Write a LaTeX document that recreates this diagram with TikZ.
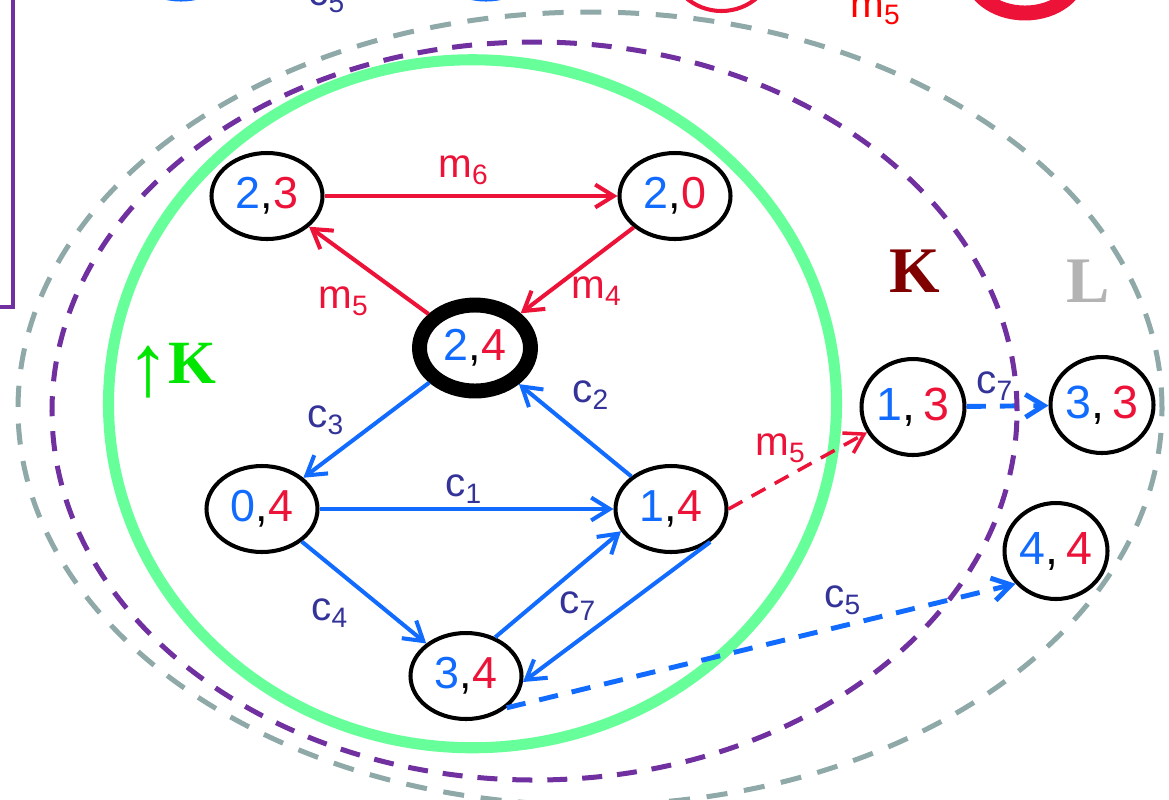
\documentclass[tikz,border=0pt]{standalone}
\usepackage{fontspec}
\setmainfont{Liberation Sans}
\newfontfamily\kfont{Liberation Serif}
\usetikzlibrary{arrows.meta,shapes.geometric}

\definecolor{cblue}{RGB}{17,107,255}
\definecolor{cred}{RGB}{236,18,56}
\definecolor{clab}{RGB}{51,51,153}
\definecolor{cgreen}{RGB}{102,255,153}
\definecolor{cpurple}{RGB}{112,48,160}
\definecolor{cgray}{RGB}{143,168,168}
\definecolor{kred}{RGB}{128,0,0}
\definecolor{lgray}{RGB}{179,179,179}
\definecolor{kgreen}{RGB}{0,230,0}

\newcommand{\pair}[2]{{\color{cblue}#1},{\color{cred}#2}}
\newcommand{\sublab}[2]{#1\raisebox{-4.5pt}{\fontsize{16}{16}\selectfont #2}}

\tikzset{
	state/.style={draw, fill=white, ellipse, line width=2.3pt, minimum width=2.22cm, minimum height=1.72cm, inner sep=0pt, font=\fontsize{25.5}{25.5}\selectfont},
	rstate/.style={state, minimum width=2.06cm, minimum height=1.92cm, font=\fontsize{26.5}{26.5}\selectfont},
	curstate/.style={state, line width=8.5pt},
	tip/.style={-{Straight Barb[length=10.5pt,width=13pt]}},
	mv/.style={tip, cred, line width=2.3pt},
	cv/.style={tip, cblue, line width=2.3pt},
	mvd/.style={mv, line width=2pt, dash pattern=on 9pt off 6pt},
	cvd/.style={cv, line width=2.8pt, dash pattern=on 11pt off 8pt},
	lab/.style={anchor=base west, inner sep=0pt, font=\fontsize{23}{23}\selectfont},
	big/.style={anchor=base west, inner sep=0pt, font=\kfont\bfseries\fontsize{37}{37}\selectfont}
}

\begin{document}
\begin{tikzpicture}[scale=2]
	
	\useasboundingbox (0,0) rectangle (11.69,-7.99);
	\clip (0,0) rectangle (11.69,-7.99);
	
	% Resto de la diapositiva (cortado)
	\draw[cpurple, line width=2.3pt] (-1,1) rectangle (0.13,-3.07);
	\node[state, draw=cblue] (t1) at (1.81,0.435) {};
	\node[state, draw=cblue] (t2) at (4.86,0.435) {};
	\node[rstate, draw=cred] (t3) at (7.215,0.37) {};
	\node[curstate, draw=cred] (t4) at (10.25,0.30) {};
	\node[lab, clab] (tc5) at (3.08,-0.05) {\sublab{c}{5}};
	\node[lab, red] (tm5) at (8.50,-0.17) {\sublab{m}{5}};
	
	% Conjuntos
	\draw[cgreen, line width=6.3pt] (4.725,-4.0375) ellipse [x radius=3.64, y radius=3.44];
	
	% Estados
	\node[state] (n23) at (2.67,-1.96) {\pair{2}{3}};
	\node[state] (n20) at (6.75,-1.96) {\pair{2}{0}};
	\node[curstate] (n24) at (4.75,-3.48) {\pair{2}{4}};
	\node[state] (n04) at (2.62,-5.09) {\pair{0}{4}};
	\node[state] (n14) at (6.71,-5.09) {\pair{1}{4}};
	\node[state] (n34) at (4.66,-6.76) {\pair{3}{4}};
	\node[rstate] (n13) at (9.13,-4.07) {\pair{1}{\,3}};
	\node[rstate] (n33) at (11.02,-4.05) {\pair{3}{\,3}};
	\node[rstate] (n44) at (10.56,-5.51) {\pair{4}{\,4}};
	
	% Transiciones
	\draw[mv] (n23) -- (n20);
	\draw[mv] (n24) -- (n23);
	\draw[mv] (n20) -- (n24);
	\draw[cv] (n24) -- (n04);
	\draw[cv] (n14) -- (n24);
	\draw[cv] (n04) -- (n14);
	\draw[cv] (n04) -- (n34);
	\draw[cv] (n34.53) -- (n14.204);
	\draw[cv] (n14.320) -- (n34.354);
	\draw[mvd] (n14.east) -- (n13);
	\draw[cvd] (n13) -- (n33);
	\draw[cvd] (n34.322) -- (n44.219);
	
	\draw[cpurple, line width=2.85pt, dash pattern=on 11.4pt off 8.5pt] (5.345,-4.11) ellipse [x radius=4.825, y radius=3.69];
	\draw[cgray, line width=2.85pt, dash pattern=on 12pt off 9.5pt] (5.90,-4.085) ellipse [x radius=5.72, y radius=3.965];
	
	% Etiquetas
	\node[lab, cred] (lm6) at (4.38,-1.77) {\sublab{m}{6}};
	\node[lab, cred] (lm5) at (3.18,-3.08) {\sublab{m}{5}};
	\node[lab, cred] (lm4) at (5.71,-2.98) {\sublab{m}{4}};
	\node[lab, clab] (lc2) at (5.72,-4.02) {\sublab{c}{2}};
	\node[lab, clab] (lc3) at (3.07,-4.27) {\sublab{c}{3}};
	\node[lab, clab] (lc1) at (4.45,-4.96) {\sublab{c}{1}};
	\node[lab, clab] (lc4) at (3.11,-6.20) {\sublab{c}{4}};
	\node[lab, clab] (lc7) at (5.59,-6.13) {\sublab{c}{7}};
	\node[lab, cred] (lm5b) at (7.55,-4.55) {\sublab{m}{5}};
	\node[lab, clab] (lc7b) at (9.76,-3.93) {\sublab{c}{7}};
	\node[lab, clab] (lc5) at (8.24,-6.07) {\sublab{c}{5}};
	
	\node[big, kgreen] (upK) at (1.26,-3.83) {\raisebox{-7pt}{\mdseries\fontsize{50}{50}\selectfont ↑}\kern-1pt{\fontsize{35}{35}\selectfont K}};
	\node[big, kred] (K) at (8.89,-2.92) {K};
	\node[big, lgray] (L) at (10.66,-3.02) {L};
	
\end{tikzpicture}
\end{document}
